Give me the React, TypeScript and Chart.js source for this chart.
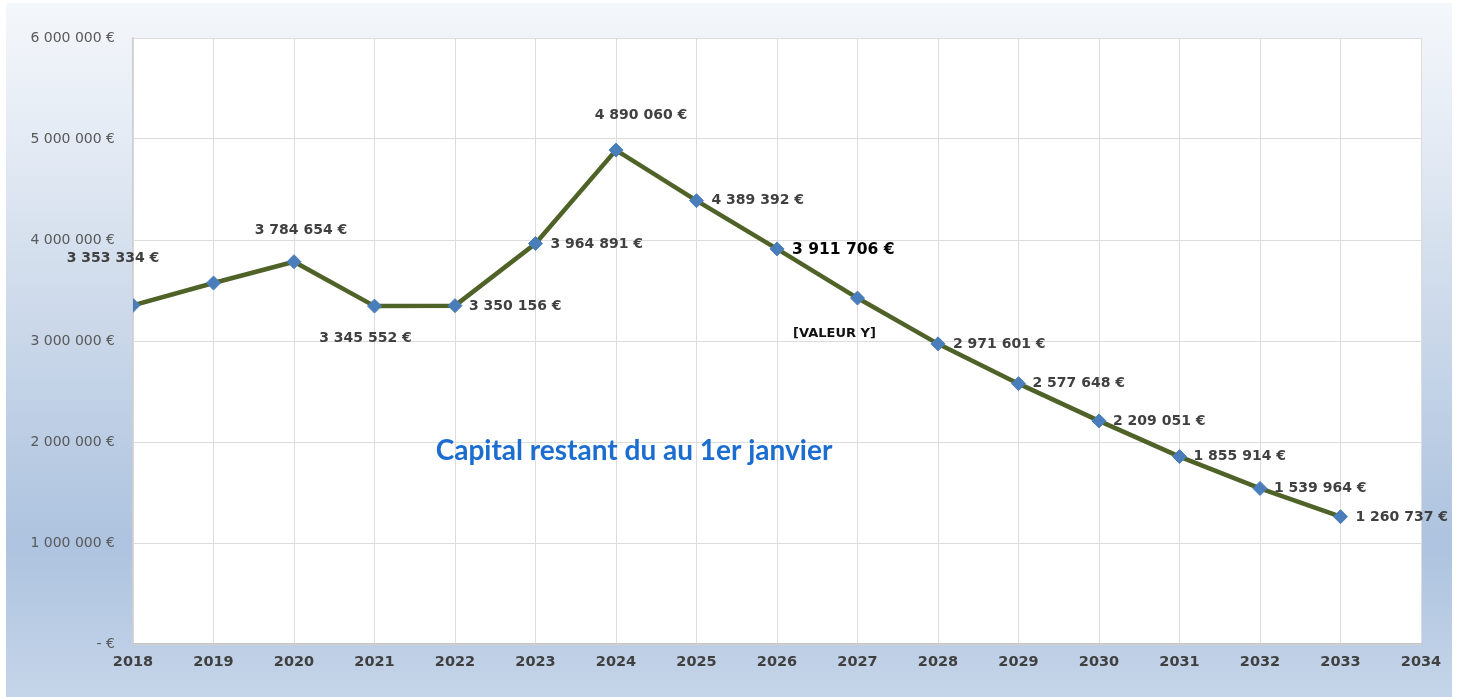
import React, { useEffect, useRef } from "react";
import { Chart, registerables } from "chart.js";

Chart.register(...registerables);

const years = [2018, 2019, 2020, 2021, 2022, 2023, 2024, 2025, 2026, 2027, 2028, 2029, 2030, 2031, 2032, 2033];
const capital = [3353334, 3574000, 3784654, 3345552, 3350156, 3964891, 4890060, 4389392, 3911706, 3425000, 2971601, 2577648, 2209051, 1855914, 1539964, 1260737];
const pointLabels = ["3 353 334 €", "", "3 784 654 €", "3 345 552 €", "3 350 156 €", "3 964 891 €", "4 890 060 €", "4 389 392 €", "3 911 706 €", "[VALEUR Y]", "2 971 601 €", "2 577 648 €", "2 209 051 €", "1 855 914 €", "1 539 964 €", "1 260 737 €"];
const yTicks = [0, 1000000, 2000000, 3000000, 4000000, 5000000, 6000000];
const xMin = 2018;
const xMax = 2034;
const chartTitle = "Capital restant du au 1er janvier";

// label placement (style): [dx, dy, align]
const labelPlacement: [number, number, CanvasTextAlign][] = [
  [-20, -47, "center"],
  [0, 0, "center"],
  [7, -31, "center"],
  [-9, 32, "center"],
  [14, 1, "left"],
  [15, 1, "left"],
  [25, -35, "center"],
  [15, 0, "left"],
  [15, 1, "left"],
  [-23, 36, "center"],
  [15, 0, "left"],
  [14, 0, "left"],
  [14, 0, "left"],
  [14, 0, "left"],
  [14, 0, "left"],
  [15, 1, "left"],
];

function fmtEuro(v: number): string {
  if (v === 0) return "- €";
  const s = Math.round(v).toString().replace(/\B(?=(\d{3})+(?!\d))/g, " ");
  return s + " €";
}

const bgPlugin = {
  id: "bgPlugin",
  beforeDraw(chart: any) {
    const ctx = chart.ctx;
    const { width, height } = chart;
    ctx.save();
    ctx.fillStyle = "#ffffff";
    ctx.fillRect(0, 0, width, height);
    const g = ctx.createLinearGradient(0, 3, 0, height);
    g.addColorStop(0, "#f4f7fb");
    g.addColorStop(0.15, "#e8eef6");
    g.addColorStop(0.42, "#cfdbeb");
    g.addColorStop(0.78, "#adc3df");
    g.addColorStop(1, "#c5d5e9");
    ctx.fillStyle = g;
    ctx.fillRect(6, 3, 1446, height - 3);
    const a = chart.chartArea;
    ctx.fillStyle = "#ffffff";
    ctx.fillRect(a.left, a.top, a.right - a.left, a.bottom - a.top);
    ctx.restore();
  },
};

const labelPlugin = {
  id: "labelPlugin",
  afterDatasetsDraw(chart: any) {
    const ctx = chart.ctx;
    const meta = chart.getDatasetMeta(0);
    ctx.save();
    meta.data.forEach((pt: any, i: number) => {
      const text = pointLabels[i];
      if (!text) return;
      const [dx, dy, align] = labelPlacement[i];
      if (i === 8) {
        ctx.font = "bold 15.5px 'DejaVu Sans'";
        ctx.fillStyle = "#000000";
      } else if (i === 9) {
        ctx.font = "bold 13px 'DejaVu Sans'";
        ctx.fillStyle = "#111111";
      } else {
        ctx.font = "bold 14px 'DejaVu Sans'";
        ctx.fillStyle = "#404040";
      }
      ctx.textAlign = align;
      ctx.textBaseline = "middle";
      ctx.fillText(text, pt.x + dx, pt.y + dy);
    });
    // chart title inside plot
    ctx.font = "bold 28px Lato";
    ctx.fillStyle = "#1c6dd0";
    ctx.textAlign = "center";
    ctx.textBaseline = "middle";
    ctx.fillText(chartTitle, 634, 451);
    ctx.restore();
  },
};

export default function App() {
  const ref = useRef<HTMLCanvasElement | null>(null);
  useEffect(() => {
    if (!ref.current) return;
    const chart = new Chart(ref.current, {
      type: "line",
      data: {
        datasets: [
          {
            data: years.map((y, i) => ({ x: y, y: capital[i] })),
            borderColor: "#4f6228",
            borderWidth: 4.5,
            pointStyle: "rectRot",
            pointRadius: 7,
            pointHoverRadius: 7,
            pointBackgroundColor: "#4a7ebb",
            pointBorderColor: "#4a7ebb",
            pointBorderWidth: 1,
            tension: 0,
          },
        ],
      },
      options: {
        animation: false,
        responsive: false,
        maintainAspectRatio: false,
        layout: { padding: { top: 38, right: 40, bottom: 0, left: 0 } },
        plugins: { legend: { display: false }, tooltip: { enabled: false }, title: { display: false } },
        scales: {
          x: {
            type: "linear",
            min: xMin,
            max: xMax,
            afterFit(scale: any) {
              scale.height = 53;
            },
            afterBuildTicks(scale: any) {
              const t = [];
              for (let v = xMin; v <= xMax; v++) t.push({ value: v });
              scale.ticks = t;
            },
            ticks: {
              autoSkip: false,
              maxRotation: 0,
              padding: 10,
              color: "#404040",
              font: { family: "'DejaVu Sans'", size: 14.5, weight: "bold" },
              callback: (v: any) => String(v),
            },
            grid: { color: "#dcdcdc", lineWidth: 1, drawTicks: false },
            border: { display: true, color: "#c4c4c4", width: 1.5 },
          },
          y: {
            min: 0,
            max: 6000000,
            afterFit(scale: any) {
              scale.width = 133;
            },
            afterBuildTicks(scale: any) {
              scale.ticks = yTicks.map((v) => ({ value: v }));
            },
            ticks: {
              padding: 18,
              color: "#595959",
              font: { family: "'DejaVu Sans'", size: 14 },
              callback: (v: any) => fmtEuro(Number(v)),
            },
            grid: { color: "#dcdcdc", lineWidth: 1, drawTicks: false },
            border: { display: true, color: "#cfcfcf", width: 1.5 },
          },
        },
      },
      plugins: [bgPlugin, labelPlugin],
    });
    return () => chart.destroy();
  }, []);
  return (
    <div style={{ position: "absolute", left: 0, top: 0, width: 1461, height: 697 }}>
      <canvas ref={ref} width={1461} height={697} style={{ display: "block" }} />
    </div>
  );
}
